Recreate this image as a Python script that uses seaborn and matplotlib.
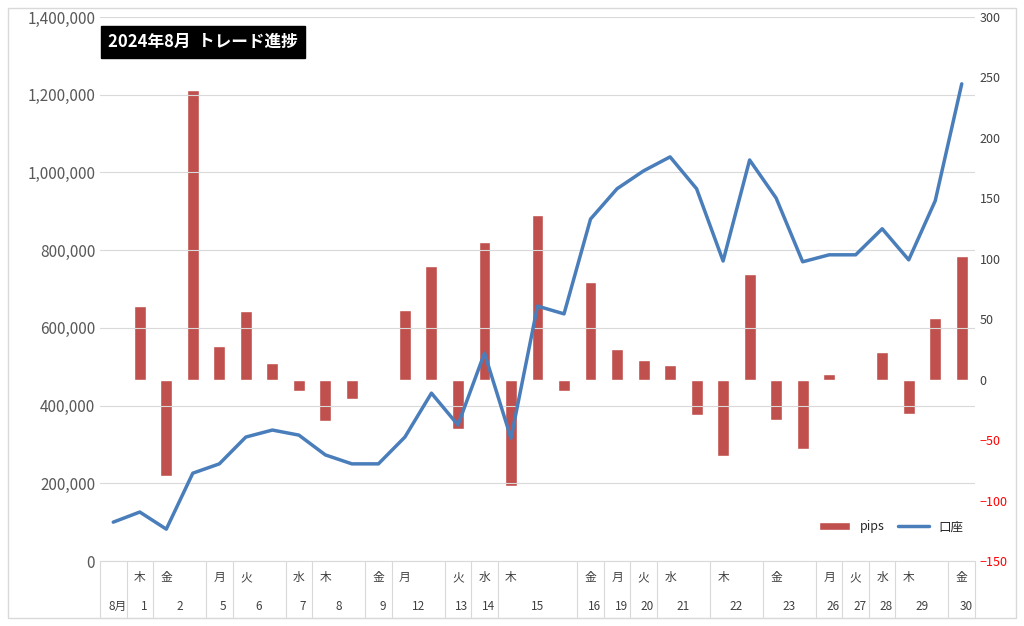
import matplotlib
matplotlib.use("Agg")
from matplotlib import pyplot as plt
import matplotlib.transforms as mtransforms
import seaborn as sns
import numpy as np

sns.set_style("white")
plt.rcParams['font.family'] = ['Noto Sans CJK JP', 'DejaVu Sans']

# one slot per entry
slots = list(range(33))
pips = [0, 61, -80, 240, 28, 57, 14, -9, -34, -16, 0, 58, 94, -41, 114, -88,
        136, -9, 81, 25, 16, 12, -29, -63, 87, -33, -57, 5, 0, 23, -28, 51, 102]
account = [100000, 126000, 82000, 226000, 250000, 319000, 337000, 324000, 273000,
           250000, 250000, 319000, 432000, 350000, 535000, 316000, 656000, 636000,
           880000, 958000, 1004000, 1040000, 958000, 772000, 1032000, 934000,
           770000, 788000, 788000, 855000, 775000, 927000, 1228000]
# (day label, weekday, first slot, number of slots)
groups = [("8月", "", 0, 1), ("1", "木", 1, 1), ("2", "金", 2, 2), ("5", "月", 4, 1),
          ("6", "火", 5, 2), ("7", "水", 7, 1), ("8", "木", 8, 2), ("9", "金", 10, 1),
          ("12", "月", 11, 2), ("13", "火", 13, 1), ("14", "水", 14, 1), ("15", "木", 15, 3),
          ("16", "金", 18, 1), ("19", "月", 19, 1), ("20", "火", 20, 1), ("21", "水", 21, 2),
          ("22", "木", 23, 2), ("23", "金", 25, 2), ("26", "月", 27, 1), ("27", "火", 28, 1),
          ("28", "水", 29, 1), ("29", "木", 30, 2), ("30", "金", 32, 1)]

fig = plt.figure(figsize=(10.24, 6.26), dpi=100)
ax = fig.add_axes([100/1024, 1-561/626, 875/1024, 544/626])
ax2 = ax.twinx()

bar_x = [s for s, p in zip(slots, pips) if p != 0]
bar_y = [p for p in pips if p != 0]
sns.barplot(x=bar_x, y=bar_y, native_scale=True, color="#C0504D", width=0.45,
            saturation=1, ax=ax2, label="pips")
sns.lineplot(x=slots, y=account, color="#4A7EBB", linewidth=2.5, ax=ax, label="口座")

ax.set_zorder(ax2.get_zorder() + 1)
ax.patch.set_visible(False)
ax.set_xlim(-0.5, 32.5)
ax.set_ylim(0, 1400000)
ax.set_yticks(np.arange(0, 1400001, 200000))
ax.set_yticklabels([f"{v:,}" for v in range(0, 1400001, 200000)])
ax2.set_ylim(-150, 300)
ax2.set_yticks(range(-150, 301, 50))
for lbl in ax2.get_yticklabels():
    lbl.set_color("red" if float(lbl.get_text().replace("−", "-")) < 0 else "#404040")
ax.grid(axis="y", color="#D9D9D9", linewidth=0.8)
ax.set_xticks([])
ax2.set_xticks([])
ax.tick_params(axis="y", labelsize=11, labelcolor="#595959", length=0)
ax2.tick_params(axis="y", labelsize=9, length=0)
for a in (ax, ax2):
    for sp in a.spines.values():
        sp.set_visible(False)
ax.spines["bottom"].set_visible(True)
ax.spines["bottom"].set_color("#D9D9D9")

# legend
h1, l1 = ax2.get_legend_handles_labels()
h2, l2 = ax.get_legend_handles_labels()
if ax2.get_legend():
    ax2.get_legend().remove()
ax.legend(h1 + h2, l1 + l2, loc="lower right", bbox_to_anchor=(1.0, 0.03), ncol=2,
          frameon=False, fontsize=9, handlelength=2.5, columnspacing=1)

# category table under the axis
tr = mtransforms.blended_transform_factory(ax.transData, ax.transAxes)
for day, wd, start, n in groups:
    left = start - 0.5
    ax.plot([left, left], [0, -0.105], transform=tr, color="#D9D9D9", lw=0.8, clip_on=False)
    ax.text(start + (n - 1) / 2 + (0.15 if n == 1 else 0), -0.083, day, transform=tr,
            ha="center", va="center", fontsize=8.5, color="#404040")
    if wd:
        ax.text(left + 0.5, -0.031, wd, transform=tr, ha="center", va="center",
                fontsize=8.5, color="#404040")
ax.plot([32.5, 32.5], [0, -0.105], transform=tr, color="#D9D9D9", lw=0.8, clip_on=False)
ax.plot([-0.5, 32.5], [-0.105, -0.105], transform=tr, color="#D9D9D9", lw=0.8, clip_on=False)

# title box
ax.text(-0.5 + 0.3, 1360000, "2024年8月  トレード進捗", fontsize=12, color="white",
        va="top", ha="left", fontweight="bold",
        bbox=dict(facecolor="black", edgecolor="black", pad=5))

# outer frame
fig.patches.append(plt.Rectangle((8/1024, 8/626), 1008/1024, 610/626, transform=fig.transFigure,
                                 fill=False, edgecolor="#D9D9D9", lw=1))
fig.savefig("out.png", dpi=100)
